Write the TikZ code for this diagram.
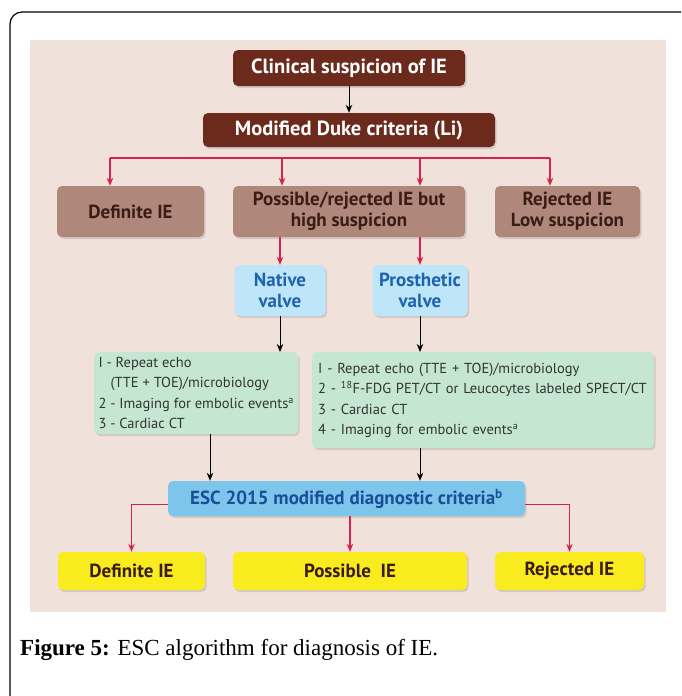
\documentclass[tikz,border=0pt]{standalone}
\usepackage{fontspec}
\setmainfont{Liberation Serif}
\newfontfamily\boxfont{PT Sans}
\usetikzlibrary{shadows,arrows.meta}
\definecolor{bgpink}{HTML}{F0E1DB}
\definecolor{brownD}{HTML}{6B2A1C}
\definecolor{brownM}{HTML}{B0877B}
\definecolor{brownT}{HTML}{3A1C14}
\definecolor{lblue}{HTML}{BFE6F8}
\definecolor{bluetxt}{HTML}{1D63AE}
\definecolor{greenb}{HTML}{C5E6D1}
\definecolor{escb}{HTML}{7EC5EB}
\definecolor{esctxt}{HTML}{1A4E98}
\definecolor{yellowb}{HTML}{F8EC1E}
\definecolor{redl}{HTML}{D8224C}
\definecolor{grtxt}{HTML}{333333}
\begin{document}
\begin{tikzpicture}[x=1pt,y=-1pt,
  box/.style={rounded corners=5pt, align=center, inner sep=2pt,
    font=\boxfont\bfseries\fontsize{19}{21}\selectfont,
    drop shadow={opacity=0.25, shadow xshift=1.5pt, shadow yshift=-2pt}},
  darkbox/.style={box, fill=brownD, text=white, font=\boxfont\bfseries\fontsize{20.5}{23}\selectfont},
  midbox/.style={box, fill=brownM, text=brownT},
  valvebox/.style={box, fill=lblue, text=bluetxt},
  greenbox/.style={box, fill=greenb, text=grtxt, align=left, anchor=north west,
    font=\boxfont\fontsize{14.5}{20.5}\selectfont, inner xsep=4pt, inner ysep=5pt},
  escbox/.style={box, fill=escb, text=esctxt},
  ybox/.style={box, fill=yellowb, text=brownT},
  blk/.style={line width=1pt, -{Stealth[length=8pt,width=6.5pt]}},
  redar/.style={line width=1.1pt, draw=redl, -{Stealth[length=8pt,width=6.5pt]}},
  redln/.style={line width=1.1pt, draw=redl}
]
\useasboundingbox (0,0) rectangle (681,696);
\clip (0,0) rectangle (681,696);
\fill[white] (0,0) rectangle (681,696);
\draw[line width=1.2pt, rounded corners=12pt] (10,12) rectangle (720,740);
\fill[bgpink] (30,40) rectangle (666,612);

% top nodes
\node[darkbox, minimum width=232pt, minimum height=36pt] (clin) at (349,68) {Clinical suspicion of IE};
\node[darkbox, minimum width=292pt, minimum height=34pt] (duke) at (349,130) {Modified Duke criteria (Li)};

\node[midbox, minimum width=147pt, minimum height=51pt] (def1) at (130.5,211.5) {Definite IE};
\node[midbox, minimum width=232pt, minimum height=51pt] (poss1) at (349,211.5) {Possible/rejected IE but\\high suspicion};
\node[midbox, minimum width=145pt, minimum height=51pt] (rej1) at (567.5,211.5) {Rejected IE\\Low suspicion};

\node[valvebox, minimum width=91pt, minimum height=51pt] (native) at (280,290.5) {Native\\valve};
\node[valvebox, minimum width=95pt, minimum height=51pt] (prost) at (420,290.5) {Prosthetic\\valve};

\node[greenbox, minimum width=204pt, minimum height=80pt] (gl) at (94,352)
  {I - Repeat echo\\\hspace*{12pt}(TTE + TOE)/microbiology\\2 - Imaging for embolic events\textsuperscript{a}\\3 - Cardiac CT};
\node[greenbox, text width=330pt, minimum height=96pt, inner xsep=6pt] (gr) at (312,352)
  {I - Repeat echo (TTE + TOE)/microbiology\\2 - \textsuperscript{18}F-FDG PET/CT or Leucocytes labeled SPECT/CT\\3 - Cardiac CT\\4 - Imaging for embolic events\textsuperscript{a}};

\node[escbox, minimum width=357pt, minimum height=35pt] (esc) at (346.5,498.5) {ESC 2015 modified diagnostic criteria\textsuperscript{b}};

\node[ybox, minimum width=147pt, minimum height=38pt] (yd) at (131.5,571) {Definite IE};
\node[ybox, minimum width=234pt, minimum height=38pt] (yp) at (350,571) {Possible\ \ IE};
\node[ybox, minimum width=149pt, minimum height=38pt] (yr) at (569.5,571) {Rejected IE};

% connectors
\draw[blk] (clin.south) -- (duke.north);
\coordinate (s1) at (110,158);
\coordinate (s2) at (282,158);
\coordinate (s3) at (420,158);
\coordinate (s4) at (550,158);
\draw[redln] (s1) -- (s4);
\draw[redar] (s1) -- (s1 |- def1.north);
\draw[redar] (s2) -- (s2 |- poss1.north);
\draw[redar] (s3) -- (s3 |- poss1.north);
\draw[redar] (s4) -- (s4 |- rej1.north);

\draw[redar] (native.north |- poss1.south) -- (native.north);
\draw[redar] (prost.north |- poss1.south) -- (prost.north);

\draw[blk] (native.south) -- (native.south |- gl.north);
\draw[blk] (prost.south) -- (prost.south |- gr.north);

\coordinate (gla) at (210,432);
\draw[blk] (gla |- gl.south) -- (gla |- esc.north);
\draw[blk] (prost.south |- gr.south) -- (prost.south |- esc.north);

\draw[redar] ([yshift=-6pt]esc.west) -| (yd.north);
\draw[redar] ([yshift=-6pt]esc.east) -| (yr.north);
\draw[redar] (esc.south -| yp.north) -- (yp.north);

% caption
\node[anchor=west, inner sep=0pt, font=\fontsize{23}{26}\selectfont] (cap) at (20,650)
  {\textbf{Figure 5:} ESC algorithm for diagnosis of IE.};
\end{tikzpicture}
\end{document}
